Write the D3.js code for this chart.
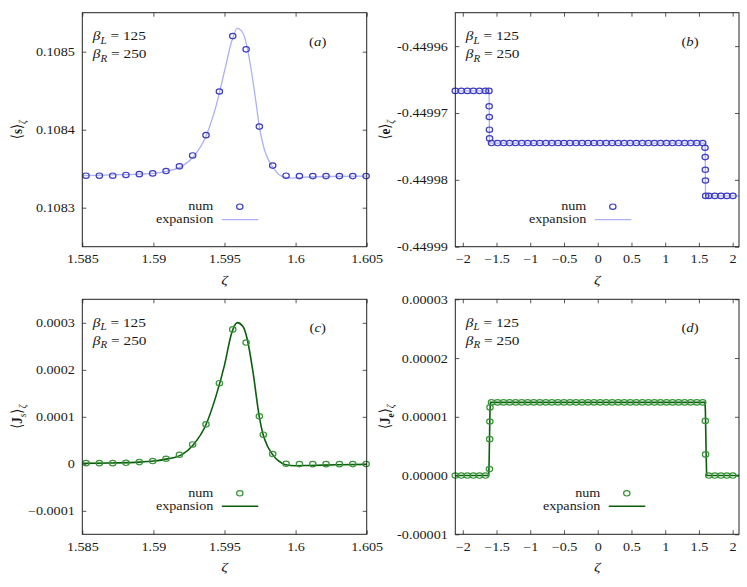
<!DOCTYPE html>
<html>
<head>
<meta charset="utf-8">
<script src="https://cdn.jsdelivr.net/npm/d3@7"></script>
<style>
  body { margin: 0; background: #fff; }
  text { font-family: "Liberation Serif", "DejaVu Serif", serif; fill: #1a1a1a; }
</style>
</head>
<body>
<div class="svg-container"></div>
<script>
// ---- data ----

// panels (a) and (c): zeta grid near 1.6
const peakZeta = [1.58526, 1.58620, 1.58714, 1.58807, 1.58901, 1.58995, 1.59089, 1.59183, 1.59276, 1.59370, 1.59464,
  1.59558, 1.59652, 1.59745, 1.59839, 1.59933, 1.60027, 1.60121, 1.60214, 1.60308, 1.60402, 1.60496];
const sNum = [0.108341, 0.108341, 0.108341, 0.108342, 0.108343, 0.108344, 0.108347, 0.108353, 0.108367, 0.108393, 0.108449,
  0.108520, 0.108503, 0.108404, 0.108354, 0.108341, 0.1083405, 0.1083405, 0.1083405, 0.1083405, 0.1083405, 0.1083405];
const sExpZeta = [1.5850, 1.5870, 1.5890, 1.5900, 1.5910, 1.5920, 1.5928, 1.5937, 1.5944, 1.5950, 1.5955, 1.5959, 1.5963,
  1.5966, 1.5969, 1.5972, 1.59745, 1.5978, 1.5981, 1.5984, 1.5988, 1.5993, 1.5998, 1.6005, 1.6020, 1.6050];
const sExp = [0.108341, 0.108342, 0.108343, 0.108344, 0.108347, 0.108353, 0.108365, 0.108392, 0.108430, 0.108475, 0.108513,
  0.108530, 0.108524, 0.108505, 0.108474, 0.108437, 0.108404, 0.108375, 0.108361, 0.108352, 0.108343, 0.108339, 0.108338,
  0.108339, 0.108340, 0.1083405];

const jsZeta = [1.58526, 1.58620, 1.58714, 1.58807, 1.58901, 1.58995, 1.59089, 1.59183, 1.59276, 1.59370, 1.59464,
  1.59558, 1.59652, 1.59745, 1.59773, 1.59839, 1.59933, 1.60027, 1.60121, 1.60214, 1.60308, 1.60402, 1.60496];
const jsNum = [0.0000014, 0.0000014, 0.0000014, 0.0000021, 0.0000036, 0.0000058, 0.0000107, 0.0000192, 0.0000412,
  0.0000839, 0.0001715, 0.000286, 0.000258, 0.000101, 0.0000619, 0.0000207, 0.0000000, -0.0000006, -0.0000007,
  -0.0000007, -0.0000007, -0.0000006, -0.0000005];
const jsExpZeta = [1.5850, 1.5870, 1.5890, 1.5900, 1.5910, 1.5920, 1.5928, 1.5937, 1.5944, 1.5950, 1.5955, 1.5959,
  1.5963, 1.5966, 1.5970, 1.59745, 1.5977, 1.5980, 1.5984, 1.5988, 1.5993, 1.6000, 1.6010, 1.6030, 1.6050];
const jsExp = [0.0000010, 0.0000018, 0.0000035, 0.0000058, 0.0000105, 0.0000195, 0.0000400, 0.0000835, 0.0001440,
  0.0002100, 0.0002780, 0.0003004, 0.0002920, 0.0002650, 0.0001960, 0.0001000, 0.0000640, 0.0000390, 0.0000190,
  0.0000060, -0.0000020, -0.0000040, -0.0000035, -0.0000020, -0.0000012];

// panels (b) and (d): coarse zeta grid over the whole chain
const gridZeta = [-2.111, -2.022, -1.932, -1.843, -1.753, -1.664, -1.574, -1.485, -1.395, -1.306, -1.217, -1.127,
  -1.038, -0.948, -0.859, -0.769, -0.680, -0.590, -0.501, -0.411, -0.322, -0.233, -0.143, -0.054, 0.036, 0.125,
  0.215, 0.304, 0.394, 0.483, 0.572, 0.662, 0.751, 0.841, 0.930, 1.020, 1.109, 1.199, 1.288, 1.378, 1.467, 1.556,
  1.646, 1.735, 1.825, 1.914, 2.004];
const eGrid = [-0.4499667, -0.4499667, -0.4499667, -0.4499667, -0.4499667, -0.4499667,
  -0.4499745, -0.4499745, -0.4499745, -0.4499745, -0.4499745, -0.4499745, -0.4499745, -0.4499745, -0.4499745,
  -0.4499745, -0.4499745, -0.4499745, -0.4499745, -0.4499745, -0.4499745, -0.4499745, -0.4499745, -0.4499745,
  -0.4499745, -0.4499745, -0.4499745, -0.4499745, -0.4499745, -0.4499745, -0.4499745, -0.4499745, -0.4499745,
  -0.4499745, -0.4499745, -0.4499745, -0.4499745, -0.4499745, -0.4499745, -0.4499745, -0.4499745, -0.4499745,
  -0.4499824, -0.4499824, -0.4499824, -0.4499824, -0.4499824];
const eStepZeta = [-1.612, -1.609, -1.607, -1.605, -1.603, 1.590, 1.593, 1.595, 1.597, 1.600];
const eStep = [-0.4499667, -0.4499690, -0.4499706, -0.4499725, -0.4499738,
  -0.4499752, -0.4499766, -0.4499785, -0.4499801, -0.4499824];
const eExpZeta = [-2.111, -1.610, -1.604, 1.592, 1.598, 2.094];
const eExp = [-0.4499667, -0.4499667, -0.4499745, -0.4499745, -0.4499824, -0.4499824];

const jeGrid = [0, 0, 0, 0, 0, 0,
  0.00001245, 0.00001245, 0.00001245, 0.00001245, 0.00001245, 0.00001245, 0.00001245, 0.00001245, 0.00001245,
  0.00001245, 0.00001245, 0.00001245, 0.00001245, 0.00001245, 0.00001245, 0.00001245, 0.00001245, 0.00001245,
  0.00001245, 0.00001245, 0.00001245, 0.00001245, 0.00001245, 0.00001245, 0.00001245, 0.00001245, 0.00001245,
  0.00001245, 0.00001245, 0.00001245, 0.00001245, 0.00001245, 0.00001245, 0.00001245, 0.00001245, 0.00001245,
  0, 0, 0, 0, 0];
const jeStepZeta = [-1.605, -1.601, -1.599, -1.597, 1.595, 1.599];
const jeStep = [0.0000011, 0.0000062, 0.0000092, 0.0000116, 0.0000093, 0.0000036];
const jeExpZeta = [-2.111, -1.616, -1.610, -1.603, -1.597, -1.590, 1.590, 1.596, 1.602, 1.608, 1.614, 2.094];
const jeExp = [0, 0, 0.000002, 0.000007, 0.000011, 0.00001245, 0.00001245, 0.000011, 0.000007, 0.000003, 0, 0];

// ticks
const peakTicks = [1.585, 1.59, 1.595, 1.6, 1.605];
const peakTickLabels = ['1.585', '1.59', '1.595', '1.6', '1.605'];
const chainTicks = [-2, -1.5, -1, -0.5, 0, 0.5, 1, 1.5, 2];
const chainTickLabels = ['\u22122', '\u22121.5', '\u22121', '\u22120.5', '0', '0.5', '1', '1.5', '2'];
const sTicks = [0.1083, 0.1084, 0.1085];
const sTickLabels = ['0.1083', '0.1084', '0.1085'];
const eTicks = [-0.44999, -0.44998, -0.44997, -0.44996];
const eTickLabels = ['-0.44999', '-0.44998', '-0.44997', '-0.44996'];
const jsTicks = [-0.0001, 0, 0.0001, 0.0002, 0.0003];
const jsTickLabels = ['\u22120.0001', '0', '0.0001', '0.0002', '0.0003'];
const jeTicks = [-0.00001, 0, 0.00001, 0.00002, 0.00003];
const jeTickLabels = ['-0.00001', '0.00000', '0.00001', '0.00002', '0.00003'];

// ---- drawing ----
const width = 747;
const height = 587;
const hStretch = 1.18;   // the original figure is a bit wider than tall
const tickLen = 4;

const blue = { num: '#3c3cc4', line: '#acb0f4', lineWidth: 1.3 };
const green = { num: '#379437', line: '#0b5e0b', lineWidth: 1.6 };

const svg = d3.select('.svg-container')
  .append('svg')
  .attr('width', width)
  .attr('height', height);

function place(sel, x, y) {
  return sel.attr('transform', `translate(${x},${y}) scale(${hStretch},1)`);
}

// text made of tspans, with optional bold / italic / subscript parts
function richText(parent, parts, size) {
  const text = parent.append('text').attr('font-size', size);
  let shift = 0;
  parts.forEach(p => {
    const target = p.sub ? size * 0.28 : 0;
    const ts = text.append('tspan').text(p.t).attr('dy', target - shift);
    shift = target;
    if (p.sub) ts.attr('font-size', size * 0.72);
    if (p.b) ts.attr('font-weight', 'bold');
    if (p.i) ts.attr('font-style', 'italic');
  });
  return text;
}

function marker(sel, colour) {
  return sel.attr('rx', 3.2)
    .attr('ry', 2.7)
    .attr('fill', 'none')
    .attr('stroke', colour)
    .attr('stroke-width', 1.2);
}

function renderPanel(p) {
  const x = d3.scaleLinear().domain(p.xDomain).range([p.left, p.right]);
  const y = d3.scaleLinear().domain(p.yDomain).range([p.bottom, p.top]);
  const g = svg.append('g');

  // inward ticks on all four sides
  const bottomAxis = g.append('g')
    .attr('transform', `translate(0,${p.bottom})`)
    .call(d3.axisBottom(x).tickValues(p.xTicks).tickSize(-tickLen)
      .tickFormat((d, i) => p.xTickLabels[i]));
  bottomAxis.selectAll('text')
    .attr('y', 0).attr('dy', 0)
    .attr('font-size', 12)
    .attr('transform', `translate(0,16.5) scale(${hStretch},1)`);

  const leftAxis = g.append('g')
    .attr('transform', `translate(${p.left},0)`)
    .call(d3.axisLeft(y).tickValues(p.yTicks).tickSize(-tickLen)
      .tickFormat((d, i) => p.yTickLabels[i]));
  leftAxis.selectAll('text')
    .attr('x', 0).attr('dy', 0)
    .attr('font-size', 12)
    .attr('transform', `translate(-7.5,4) scale(${hStretch},1)`);

  g.append('g')
    .attr('transform', `translate(0,${p.top})`)
    .call(d3.axisTop(x).tickValues(p.xTicks).tickSize(-tickLen).tickFormat(''));
  g.append('g')
    .attr('transform', `translate(${p.right},0)`)
    .call(d3.axisRight(y).tickValues(p.yTicks).tickSize(-tickLen).tickFormat(''));

  g.selectAll('.domain').remove();
  g.selectAll('.tick line').attr('stroke', '#555');

  // expansion curve
  const line = d3.line()
    .x(d => x(d[0]))
    .y(d => y(d[1]))
    .curve(p.smooth ? d3.curveMonotoneX : d3.curveLinear);

  g.append('path')
    .datum(d3.zip(p.lineZeta, p.lineVals))
    .attr('d', line)
    .attr('fill', 'none')
    .attr('stroke', p.colour.line)
    .attr('stroke-width', p.colour.lineWidth);

  // numerical points
  g.append('g')
    .selectAll('ellipse')
    .data(d3.zip(p.numZeta, p.numVals))
    .enter()
    .append('ellipse')
    .attr('cx', d => x(d[0]))
    .attr('cy', d => y(d[1]))
    .call(marker, p.colour.num);

  // frame
  g.append('rect')
    .attr('x', p.left)
    .attr('y', p.top)
    .attr('width', p.right - p.left)
    .attr('height', p.bottom - p.top)
    .attr('fill', 'none')
    .attr('stroke', '#222')
    .attr('stroke-width', 1);

  // axis titles
  place(richText(g, [{ t: '\u03b6', i: true }], 13.5), (p.left + p.right) / 2, p.bottom + 37)
    .attr('text-anchor', 'middle');

  richText(g, p.yTitle, 13)
    .attr('text-anchor', 'middle')
    .attr('transform', `translate(${p.yTitleX},${(p.top + p.bottom) / 2}) rotate(-90) scale(1,${hStretch})`);

  // parameters and panel tag
  place(richText(g, [{ t: '\u03b2', i: true }, { t: 'L', i: true, sub: true }, { t: ' = 125' }], 13),
    p.left + 10.5, p.top + 27.5);
  place(richText(g, [{ t: '\u03b2', i: true }, { t: 'R', i: true, sub: true }, { t: ' = 250' }], 13),
    p.left + 10.5, p.top + 45.5);
  place(richText(g, [{ t: '(' }, { t: p.tag, i: true }, { t: ')' }], 12.5), p.right - 49, p.top + 33)
    .attr('text-anchor', 'middle');

  // legend
  const lx = p.left + p.legendDx;
  place(richText(g, [{ t: 'num' }], 12), lx + 131, p.top + 197.5).attr('text-anchor', 'end');
  place(richText(g, [{ t: 'expansion' }], 12), lx + 131, p.top + 210.5).attr('text-anchor', 'end');
  g.append('ellipse')
    .attr('cx', lx + 157.5)
    .attr('cy', p.top + 194)
    .call(marker, p.colour.num);
  g.append('line')
    .attr('x1', lx + 139.5)
    .attr('x2', lx + 176)
    .attr('y1', p.top + 207)
    .attr('y2', p.top + 207)
    .attr('stroke', p.colour.line)
    .attr('stroke-width', p.colour.lineWidth);
}

const colL = { left: 82.3, right: 366.7 };
const colR = { left: 455.3, right: 739 };
const rowT = { top: 12.7, bottom: 246.7 };
const rowB = { top: 299.3, bottom: 534.3 };

renderPanel({
  ...colL, ...rowT, tag: 'a', smooth: true, colour: blue, legendDx: 0, yTitleX: 22,
  xDomain: [1.585, 1.605], yDomain: [0.10825, 0.10855],
  xTicks: peakTicks, xTickLabels: peakTickLabels, yTicks: sTicks, yTickLabels: sTickLabels,
  numZeta: peakZeta, numVals: sNum, lineZeta: sExpZeta, lineVals: sExp,
  yTitle: [{ t: '\u27e8' }, { t: 's', b: true }, { t: '\u27e9' }, { t: '\u03b6', i: true, sub: true }]
});

renderPanel({
  ...colR, ...rowT, tag: 'b', smooth: false, colour: blue, legendDx: 0, yTitleX: 390,
  xDomain: [-2.111, 2.094], yDomain: [-0.44999, -0.449955],
  xTicks: chainTicks, xTickLabels: chainTickLabels, yTicks: eTicks, yTickLabels: eTickLabels,
  numZeta: gridZeta.concat(eStepZeta), numVals: eGrid.concat(eStep), lineZeta: eExpZeta, lineVals: eExp,
  yTitle: [{ t: '\u27e8' }, { t: 'e', b: true }, { t: '\u27e9' }, { t: '\u03b6', i: true, sub: true }]
});

renderPanel({
  ...colL, ...rowB, tag: 'c', smooth: true, colour: green, legendDx: 0, yTitleX: 22,
  xDomain: [1.585, 1.605], yDomain: [-0.00015, 0.00035],
  xTicks: peakTicks, xTickLabels: peakTickLabels, yTicks: jsTicks, yTickLabels: jsTickLabels,
  numZeta: jsZeta, numVals: jsNum, lineZeta: jsExpZeta, lineVals: jsExp,
  yTitle: [{ t: '\u27e8' }, { t: 'J', b: true }, { t: 's', i: true, sub: true }, { t: '\u27e9' },
    { t: '\u03b6', i: true, sub: true }]
});

renderPanel({
  ...colR, ...rowB, tag: 'd', smooth: false, colour: green, legendDx: 14, yTitleX: 390,
  xDomain: [-2.111, 2.094], yDomain: [-0.00001, 0.00003],
  xTicks: chainTicks, xTickLabels: chainTickLabels, yTicks: jeTicks, yTickLabels: jeTickLabels,
  numZeta: gridZeta.concat(jeStepZeta), numVals: jeGrid.concat(jeStep), lineZeta: jeExpZeta, lineVals: jeExp,
  yTitle: [{ t: '\u27e8' }, { t: 'J', b: true }, { t: 'e', b: true, sub: true }, { t: '\u27e9' },
    { t: '\u03b6', i: true, sub: true }]
});
</script>
</body>
</html>
